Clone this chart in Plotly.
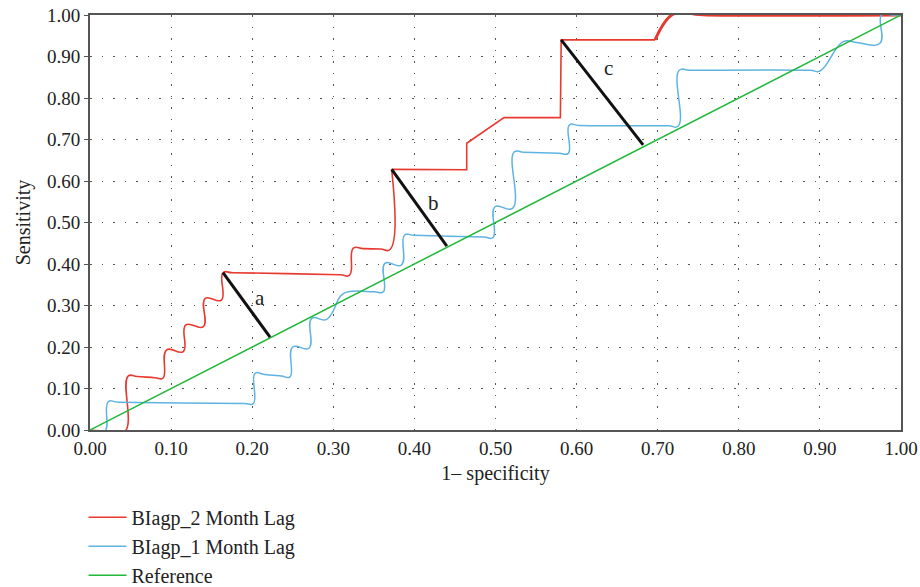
import plotly.graph_objects as go

# ---- data ----
# BIagp_2 Month Lag (red): wavy lower part, straight middle part, smooth top
red_wavy_x = [0.0, 0.020, 0.043, 0.047, 0.058, 0.080, 0.090, 0.0945, 0.115, 0.118, 0.1397, 0.142,
              0.162, 0.164, 0.176, 0.308, 0.320, 0.3247, 0.337, 0.358, 0.370, 0.372]
red_wavy_y = [0.0, -0.003, -0.004, 0.130, 0.129, 0.126, 0.125, 0.193, 0.189, 0.253, 0.249, 0.317,
              0.313, 0.379, 0.379, 0.374, 0.373, 0.438, 0.437, 0.436, 0.435, 0.628]
red_mid_x = [0.372, 0.4645, 0.4645, 0.5105, 0.580, 0.581, 0.6967]
red_mid_y = [0.628, 0.627, 0.691, 0.7526, 0.7526, 0.940, 0.940]
red_top_x = [0.6967, 0.719, 0.760, 1.0]
red_top_y = [0.940, 1.002, 1.000, 1.0]

# BIagp_1 Month Lag (blue)
blue_x = [0.0, 0.018, 0.0226, 0.035, 0.190, 0.2014, 0.2035, 0.215, 0.236, 0.2466, 0.250, 0.270,
          0.2734, 0.2918, 0.310, 0.3185, 0.350, 0.3617, 0.3637, 0.384, 0.388, 0.400, 0.485, 0.497,
          0.4994, 0.521, 0.523, 0.535, 0.578, 0.5898, 0.591, 0.603, 0.713, 0.7254, 0.7266, 0.740,
          0.8878, 0.900, 0.9289, 0.945, 0.974, 0.976, 0.990, 1.0]
blue_y = [0.0, -0.004, 0.068, 0.067, 0.064, 0.064, 0.1366, 0.134, 0.130, 0.128, 0.200, 0.197,
          0.269, 0.2667, 0.325, 0.333, 0.333, 0.333, 0.4016, 0.3976, 0.470, 0.469, 0.465, 0.464,
          0.538, 0.534, 0.670, 0.669, 0.667, 0.6666, 0.735, 0.734, 0.733, 0.7325, 0.8667, 0.8667,
          0.8667, 0.865, 0.9357, 0.934, 0.932, 1.0, 1.0, 1.0]

# Reference diagonal
ref_x = [0.0, 1.0]
ref_y = [0.0, 1.0]

# Black distance segments and labels
seg_a_x = [0.164, 0.222]
seg_a_y = [0.379, 0.224]
seg_b_x = [0.372, 0.440]
seg_b_y = [0.628, 0.443]
seg_c_x = [0.581, 0.682]
seg_c_y = [0.940, 0.687]
label_text = ["a", "b", "c"]
label_x = [0.209, 0.4233, 0.639]
label_y = [0.317, 0.546, 0.8715]

tick_vals = [0.0, 0.1, 0.2, 0.3, 0.4, 0.5, 0.6, 0.7, 0.8, 0.9, 1.0]
tick_text = ["0.00", "0.10", "0.20", "0.30", "0.40", "0.50", "0.60", "0.70", "0.80", "0.90", "1.00"]

RED = "#e8392f"
BLUE = "#5fb3e2"
GREEN = "#21b83a"
FONT = "Liberation Serif"
TXT = "#222222"

fig = go.Figure()

fig.add_trace(go.Scatter(x=red_wavy_x, y=red_wavy_y, mode="lines", name="BIagp_2 Month Lag",
                         legendgroup="red", line=dict(color=RED, width=1.6, shape="spline", smoothing=1.3)))
fig.add_trace(go.Scatter(x=red_mid_x, y=red_mid_y, mode="lines", name="BIagp_2 Month Lag",
                         legendgroup="red", showlegend=False, line=dict(color=RED, width=1.6)))
fig.add_trace(go.Scatter(x=red_top_x, y=red_top_y, mode="lines", name="BIagp_2 Month Lag",
                         legendgroup="red", showlegend=False,
                         line=dict(color=RED, width=3.0, shape="spline", smoothing=1.0)))
fig.add_trace(go.Scatter(x=blue_x, y=blue_y, mode="lines", name="BIagp_1 Month Lag",
                         line=dict(color=BLUE, width=1.5, shape="spline", smoothing=1.3)))
fig.add_trace(go.Scatter(x=ref_x, y=ref_y, mode="lines", name="Reference",
                         line=dict(color=GREEN, width=1.5)))

for sx, sy in [(seg_a_x, seg_a_y), (seg_b_x, seg_b_y), (seg_c_x, seg_c_y)]:
    fig.add_trace(go.Scatter(x=sx, y=sy, mode="lines", showlegend=False, hoverinfo="skip",
                             line=dict(color="#111111", width=3)))

for t, lx, ly in zip(label_text, label_x, label_y):
    fig.add_annotation(x=lx, y=ly, text=t, showarrow=False,
                       font=dict(family=FONT, size=21, color=TXT))

axis_common = dict(
    range=[0, 1],
    tickmode="array",
    tickvals=tick_vals,
    ticktext=tick_text,
    showline=True,
    linecolor="#555555",
    linewidth=2,
    mirror=True,
    ticklen=4,
    tickcolor="#555555",
    showgrid=True,
    gridcolor="#555555",
    gridwidth=1.2,
    griddash="1.5px,10px",
    zeroline=False,
    layer="below traces",
    automargin=False,
    tickfont=dict(family=FONT, size=19, color=TXT),
)

fig.update_layout(
    width=920,
    height=587,
    margin=dict(l=90, r=19, t=15, b=157, autoexpand=False),
    paper_bgcolor="white",
    plot_bgcolor="white",
    font=dict(family=FONT, size=20, color=TXT),
    xaxis=dict(axis_common, ticks="",
               title=dict(text="1\u2013 specificity", font=dict(family=FONT, size=20, color=TXT), standoff=8)),
    yaxis=dict(axis_common, ticks="outside",
               title=dict(text="Sensitivity", font=dict(family=FONT, size=20, color=TXT), standoff=11)),
    legend=dict(x=-0.008, y=-0.1633, xanchor="left", yanchor="top", orientation="v",
                font=dict(family=FONT, size=20, color=TXT), itemwidth=38,
                bgcolor="rgba(0,0,0,0)", tracegroupgap=0),
    showlegend=True,
)

fig.write_html("out.html", config={"displayModeBar": False},
               post_script="document.body.style.margin='0px';document.body.style.padding='0px';")
